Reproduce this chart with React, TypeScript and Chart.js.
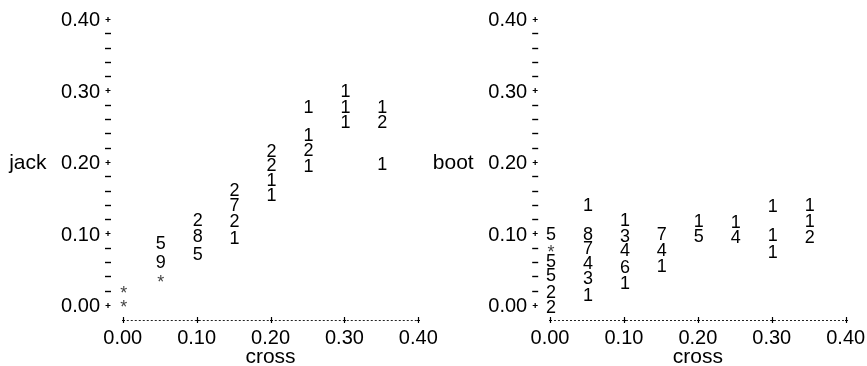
import React, { useEffect, useRef } from "react";
import { Chart, registerables } from "chart.js";

Chart.register(...registerables);

// ---- data ----
const jackCross = [0, 0, 0.05, 0.05, 0.05, 0.1, 0.1, 0.1, 0.15, 0.15, 0.15, 0.15, 0.2, 0.2, 0.2, 0.2, 0.25, 0.25, 0.25, 0.25, 0.3, 0.3, 0.3, 0.35, 0.35, 0.35];
const jackValues = [0.0, 0.02, 0.035, 0.061, 0.087, 0.072, 0.097, 0.12, 0.094, 0.118, 0.141, 0.162, 0.154, 0.175, 0.196, 0.216, 0.195, 0.218, 0.239, 0.278, 0.256, 0.278, 0.3, 0.198, 0.256, 0.278];
const jackCounts = ["*", "*", "*", "9", "5", "5", "8", "2", "1", "2", "7", "2", "1", "1", "2", "2", "1", "2", "1", "1", "1", "1", "1", "1", "2", "1"];

const bootCross = [0, 0, 0, 0, 0, 0, 0.05, 0.05, 0.05, 0.05, 0.05, 0.05, 0.1, 0.1, 0.1, 0.1, 0.1, 0.15, 0.15, 0.15, 0.2, 0.2, 0.25, 0.25, 0.3, 0.3, 0.3, 0.35, 0.35, 0.35];
const bootValues = [-0.002, 0.019, 0.042, 0.062, 0.077, 0.1, 0.014, 0.039, 0.06, 0.081, 0.1, 0.14, 0.031, 0.054, 0.078, 0.097, 0.12, 0.055, 0.077, 0.1, 0.097, 0.118, 0.096, 0.117, 0.075, 0.099, 0.139, 0.096, 0.118, 0.14];
const bootCounts = ["2", "2", "5", "5", "*", "5", "1", "3", "4", "7", "8", "1", "1", "6", "4", "3", "1", "1", "4", "7", "5", "1", "4", "1", "1", "1", "1", "2", "1", "1"];

const majorTicks = [0, 0.1, 0.2, 0.3, 0.4];
const tickLabels = ["0.00", "0.10", "0.20", "0.30", "0.40"];
const minorTicks = [0.02, 0.04, 0.06, 0.08, 0.12, 0.14, 0.16, 0.18, 0.22, 0.24, 0.26, 0.28, 0.32, 0.34, 0.36, 0.38];
const xTitle = "cross";

const FONT = '"Liberation Sans", Arial, Helvetica, sans-serif';
const TICK_SIZE = 20;
const TITLE_SIZE = 21;
const DATA_SIZE = 18;

const textPlotPlugin = {
  id: "textplot",
  afterDraw(chart: any, _args: any, opts: any) {
    const ctx = chart.ctx;
    const xs = chart.scales.x;
    const ys = chart.scales.y;
    const ax = chart.chartArea.left;
    const by = chart.chartArea.bottom;
    ctx.save();
    ctx.fillStyle = "#000";
    ctx.strokeStyle = "#000";
    // y axis ticks
    ctx.lineWidth = 1.4;
    for (const v of minorTicks) {
      const y = Math.round(ys.getPixelForValue(v)) + 0.5;
      ctx.beginPath();
      ctx.moveTo(ax - 3, y);
      ctx.lineTo(ax + 3, y);
      ctx.stroke();
    }
    ctx.lineWidth = 1.2;
    for (const v of majorTicks) {
      const y = Math.round(ys.getPixelForValue(v)) + 0.5;
      ctx.beginPath();
      ctx.moveTo(ax - 2.5, y);
      ctx.lineTo(ax + 2.5, y);
      ctx.moveTo(ax, y - 2.5);
      ctx.lineTo(ax, y + 2.5);
      ctx.stroke();
    }
    // y tick labels
    ctx.font = `${TICK_SIZE}px ${FONT}`;
    ctx.textAlign = "right";
    ctx.textBaseline = "alphabetic";
    const half = TICK_SIZE * 0.716 / 2;
    majorTicks.forEach((v, i) => {
      const y = ys.getPixelForValue(v);
      ctx.fillText(tickLabels[i], ax - 8, y + half);
    });
    // y title
    ctx.font = `${TITLE_SIZE}px ${FONT}`;
    ctx.fillText(opts.title, ax - 61.5, ys.getPixelForValue(0.2) + half);
    // x axis dotted line
    const x0 = xs.getPixelForValue(0);
    const x1 = xs.getPixelForValue(0.4);
    ctx.save();
    ctx.setLineDash([2, 2]);
    ctx.lineWidth = 1;
    ctx.strokeStyle = "#222";
    ctx.beginPath();
    ctx.moveTo(x0, by + 0.5);
    ctx.lineTo(x1, by + 0.5);
    ctx.stroke();
    ctx.restore();
    ctx.lineWidth = 1.2;
    for (const v of majorTicks) {
      const x = Math.round(xs.getPixelForValue(v)) + 0.5;
      ctx.beginPath();
      ctx.moveTo(x, by - 3);
      ctx.lineTo(x, by + 3);
      ctx.moveTo(x - 1.5, by + 0.5);
      ctx.lineTo(x + 1.5, by + 0.5);
      ctx.stroke();
    }
    ctx.font = `${TICK_SIZE}px ${FONT}`;
    ctx.textAlign = "center";
    majorTicks.forEach((v, i) => {
      const x = xs.getPixelForValue(v);
      ctx.fillText(tickLabels[i], x, by + 16.7 + half);
    });
    ctx.font = `${TITLE_SIZE}px ${FONT}`;
    ctx.fillText(xTitle, xs.getPixelForValue(0.2), by + 43.3);
    // data characters
    ctx.font = `${DATA_SIZE}px ${FONT}`;
    const dh = DATA_SIZE * 0.716 / 2;
    chart.data.datasets.forEach((ds: any, di: number) => {
      const meta = chart.getDatasetMeta(di);
      meta.data.forEach((el: any, i: number) => {
        const ch = ds.counts[i];
        if (ch === "*") {
          ctx.fillStyle = "#444";
          ctx.fillText(ch, el.x + 1, el.y + dh + 2);
          ctx.fillStyle = "#000";
        } else {
          ctx.fillText(ch, el.x + 1, el.y + dh);
        }
      });
    });
    ctx.restore();
  },
};

function Panel(props: { xs: number[]; ys: number[]; counts: string[]; title: string; padL: number; padR: number }) {
  const ref = useRef<HTMLCanvasElement>(null);
  useEffect(() => {
    const canvas = ref.current!;
    const chart = new Chart(canvas, {
      type: "scatter",
      data: {
        datasets: [
          {
            data: props.xs.map((x, i) => ({ x, y: props.ys[i] })),
            counts: props.counts,
            pointRadius: 0,
            pointHoverRadius: 0,
          } as any,
        ],
      },
      options: {
        animation: false,
        responsive: false,
        devicePixelRatio: 1,
        events: [],
        layout: { padding: { left: props.padL, right: props.padR, top: 19, bottom: 46 } },
        scales: {
          x: { type: "linear", min: -0.02, max: 0.4, display: false },
          y: { type: "linear", min: -0.021, max: 0.4, display: false },
        },
        plugins: {
          legend: { display: false },
          tooltip: { enabled: false },
          textplot: { title: props.title },
        } as any,
      },
      plugins: [textPlotPlugin],
    });
    return () => chart.destroy();
  }, []);
  return (
    <canvas
      ref={ref}
      width={867}
      height={366}
      style={{ position: "absolute", left: 0, top: 0, width: 867, height: 366 }}
    />
  );
}

export default function App() {
  return (
    <div style={{ position: "fixed", left: 0, top: 0, width: 867, height: 366, background: "#fff" }}>
      <Panel xs={jackCross} ys={jackValues} counts={jackCounts} title="jack" padL={108} padR={448.7} />
      <Panel xs={bootCross} ys={bootValues} counts={bootCounts} title="boot" padL={535.2} padR={21.3} />
    </div>
  );
}
